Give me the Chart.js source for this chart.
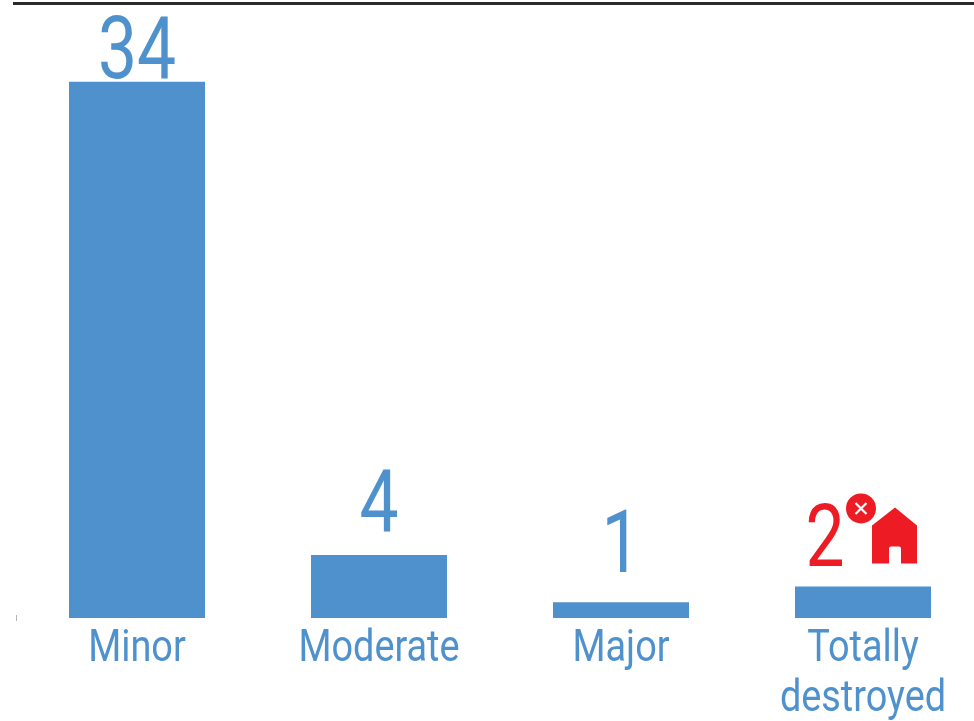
<!DOCTYPE html>
<html>
<head>
<meta charset="utf-8">
<script src="https://cdn.jsdelivr.net/npm/chart.js@4"></script>
<style>
html, body { margin: 0; padding: 0; background: #fff; overflow: hidden; width: 974px; height: 721px; }
canvas { display: block; }
</style>
</head>
<body>
<canvas id="damage-chart" width="1000" height="721"></canvas>
<script>
// Donnees du graphique
var categories = ['Minor', 'Moderate', 'Major', ['Totally', 'destroyed']];
var houses = [34, 4, 1, 2];
var valueColors = ['#4f91cd', '#4f91cd', '#4f91cd', '#ed1c24'];

var BLUE = '#4f91cd';
var RED = '#ed1c24';

// Decalage de chaque chiffre par rapport au haut de sa barre
var valueLift = [4, 24, 30, 20];
var valueShift = [0, 0, 0, -38];

// Texte etroit : la police condensee n'est pas installee
function narrowText(ctx, text, x, y, font, color, squeeze) {
    ctx.save();
    ctx.font = font;
    ctx.fillStyle = color;
    ctx.textAlign = 'center';
    ctx.textBaseline = 'alphabetic';
    ctx.translate(x, y);
    ctx.scale(squeeze, 1);
    ctx.fillText(text, 0, 0);
    ctx.restore();
}

// Petite maison barree a cote du dernier chiffre
function drawHouseIcon(ctx, bar) {
    var x = bar.x;
    var y = bar.y;
    ctx.save();
    ctx.fillStyle = RED;
    ctx.beginPath();
    ctx.arc(x - 2, y - 78, 15, 0, Math.PI * 2);
    ctx.fill();
    ctx.strokeStyle = '#fff';
    ctx.lineWidth = 2.2;
    ctx.beginPath();
    ctx.moveTo(x - 7.5, y - 83.5);
    ctx.lineTo(x + 3.5, y - 72.5);
    ctx.moveTo(x + 3.5, y - 83.5);
    ctx.lineTo(x - 7.5, y - 72.5);
    ctx.stroke();
    ctx.beginPath();
    ctx.moveTo(x + 9, y - 23);
    ctx.lineTo(x + 9, y - 61);
    ctx.lineTo(x + 32, y - 79);
    ctx.lineTo(x + 54, y - 61);
    ctx.lineTo(x + 54, y - 23);
    ctx.lineTo(x + 38, y - 23);
    ctx.lineTo(x + 38, y - 38);
    ctx.quadraticCurveTo(x + 38, y - 40, x + 36, y - 40);
    ctx.lineTo(x + 28, y - 40);
    ctx.quadraticCurveTo(x + 26, y - 40, x + 26, y - 38);
    ctx.lineTo(x + 26, y - 23);
    ctx.closePath();
    ctx.fill();
    ctx.restore();
}

var annotations = {
    id: 'annotations',
    afterDatasetsDraw: function (chart) {
        var ctx = chart.ctx;
        var area = chart.chartArea;
        var bars = chart.getDatasetMeta(0).data;

        // Trait du haut
        ctx.save();
        ctx.fillStyle = '#2b2b2b';
        ctx.fillRect(13, 2, 987, 3);
        // Petit repere a gauche de l'axe
        ctx.fillStyle = '#b5b5b5';
        ctx.fillRect(area.left, area.bottom - 3, 1, 6);
        ctx.restore();

        bars.forEach(function (bar, i) {
            narrowText(ctx, String(houses[i]), bar.x + valueShift[i], bar.y - valueLift[i], '400 87px Roboto', valueColors[i], 0.8);

            var lines = [].concat(categories[i]);
            lines.forEach(function (line, j) {
                narrowText(ctx, line, bar.x, area.bottom + 43 + j * 50, '400 44px Roboto', BLUE, 0.86);
            });
        });
        drawHouseIcon(ctx, bars[3]);
    }
};

new Chart(document.getElementById('damage-chart'), {
    type: 'bar',
    data: {
        labels: categories,
        datasets: [{
            data: houses,
            backgroundColor: BLUE,
            barPercentage: 0.562,
            categoryPercentage: 1
        }]
    },
    options: {
        responsive: false,
        animation: false,
        layout: { padding: { left: 16, right: 16, top: 3, bottom: 103 } },
        plugins: { legend: { display: false }, tooltip: { enabled: false } },
        scales: {
            x: { display: false },
            y: { display: false, min: 0, max: 39 }
        }
    },
    plugins: [annotations]
});
</script>
</body>
</html>
